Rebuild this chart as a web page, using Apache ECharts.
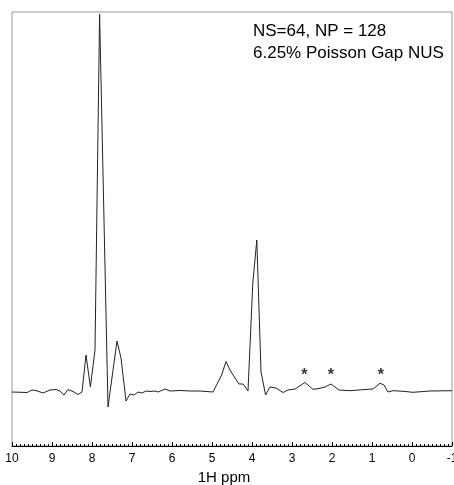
<!DOCTYPE html>
<html>
<head>
<meta charset="utf-8">
<script src="https://cdn.jsdelivr.net/npm/echarts@6/dist/echarts.min.js"></script>
<style>
  html, body { margin: 0; padding: 0; background: #fff; }
  #chart { width: 454px; height: 485px; }
</style>
</head>
<body>
<div id="chart"></div>
<script>
  // 化学位移 (ppm) 与强度, 基线为 0
  const ppm = [10.00, 9.625, 9.50, 9.40, 9.225, 9.05, 8.90, 8.80, 8.70, 8.60,
    8.45, 8.35, 8.25, 8.15, 8.04, 7.925, 7.81, 7.60, 7.375, 7.275,
    7.15, 7.05, 6.95, 6.85, 6.75, 6.65, 6.55, 6.425, 6.35, 6.175,
    6.05, 5.80, 5.55, 5.30, 4.975, 4.76, 4.65, 4.55, 4.425, 4.325,
    4.225, 4.10, 3.98, 3.88, 3.775, 3.66, 3.55, 3.40, 3.225, 3.10,
    2.925, 2.675, 2.475, 2.35, 2.175, 2.025, 1.825, 1.55, 1.225, 0.975,
    0.80, 0.70, 0.60, 0.475, 0.225, -0.025, -0.45, -1.00]
  const intensity = [0, -0.5, 2, 1.5, -1, 2, 2.5, 1, -3, 2.5,
    0, -2.5, 0, 37, 5, 42, 378, -15, 51, 34,
    -9, -2, -3, 0, -1, 1, 0.5, 1, 0, 3,
    1, 1.5, 1, 1, 0, 17, 30.5, 22, 14, 8,
    8, 1, 109, 152, 20, -3, 5, 4, -0.5, 2,
    3, 9.5, 2.7, 3.3, 5, 8, 2, 1.3, 2.3, 3,
    8.7, 7, 0, 1.3, 0.7, -0.3, 1, 1.3]
  // 标星号的峰
  const starPpm = [2.69, 2.03, 0.78]
  const starY = [16, 16, 16]
  const noteLines = ['NS=64, NP = 128', '6.25% Poisson Gap NUS']

  const myChart = echarts.init(document.getElementById('chart'))

  const lineData = ppm.map((p, i) => [p, intensity[i]])
  const starData = starPpm.map((p, i) => [p, starY[i]])

  const option = {
    animation: false,
    grid: {
      left: 12,
      right: 2,
      top: 12,
      bottom: 39,
      outerBoundsMode: 'none',
      show: true,
      borderColor: '#999',
      borderWidth: 1
    },
    xAxis: {
      type: 'value',
      min: -1,
      max: 10,
      interval: 1,
      inverse: true,
      name: '1H ppm',
      nameLocation: 'middle',
      nameGap: 21,
      nameTextStyle: {
        fontFamily: 'Liberation Sans',
        fontSize: 15,
        color: '#000',
        padding: [0, 16, 0, 0]
      },
      axisLine: { show: true, onZero: false, lineStyle: { color: '#000', width: 1 } },
      axisTick: { show: true, inside: true, length: 4, lineStyle: { color: '#000' } },
      minorTick: { show: true, splitNumber: 10, length: 2, lineStyle: { color: '#000' } },
      axisLabel: {
        fontFamily: 'Liberation Sans',
        fontSize: 12,
        color: '#000',
        margin: 7,
        showMinLabel: true,
        showMaxLabel: true
      },
      splitLine: { show: false }
    },
    yAxis: {
      type: 'value',
      min: -54,
      max: 380,
      show: false
    },
    series: [
      {
        type: 'line',
        data: lineData,
        symbol: 'none',
        lineStyle: { color: '#222', width: 1 }
      },
      {
        type: 'scatter',
        data: starData,
        symbolSize: 0,
        label: {
          show: true,
          formatter: '*',
          position: 'inside',
          fontFamily: 'Liberation Sans',
          fontSize: 16,
          fontWeight: 'bold',
          color: '#000'
        }
      }
    ],
    graphic: [
      {
        type: 'text',
        left: 253,
        top: 20,
        style: {
          text: noteLines.join('\n'),
          fontFamily: 'Liberation Sans',
          fontSize: 17,
          lineHeight: 22,
          fill: '#000'
        }
      }
    ]
  }

  myChart.setOption(option)
</script>
</body>
</html>
